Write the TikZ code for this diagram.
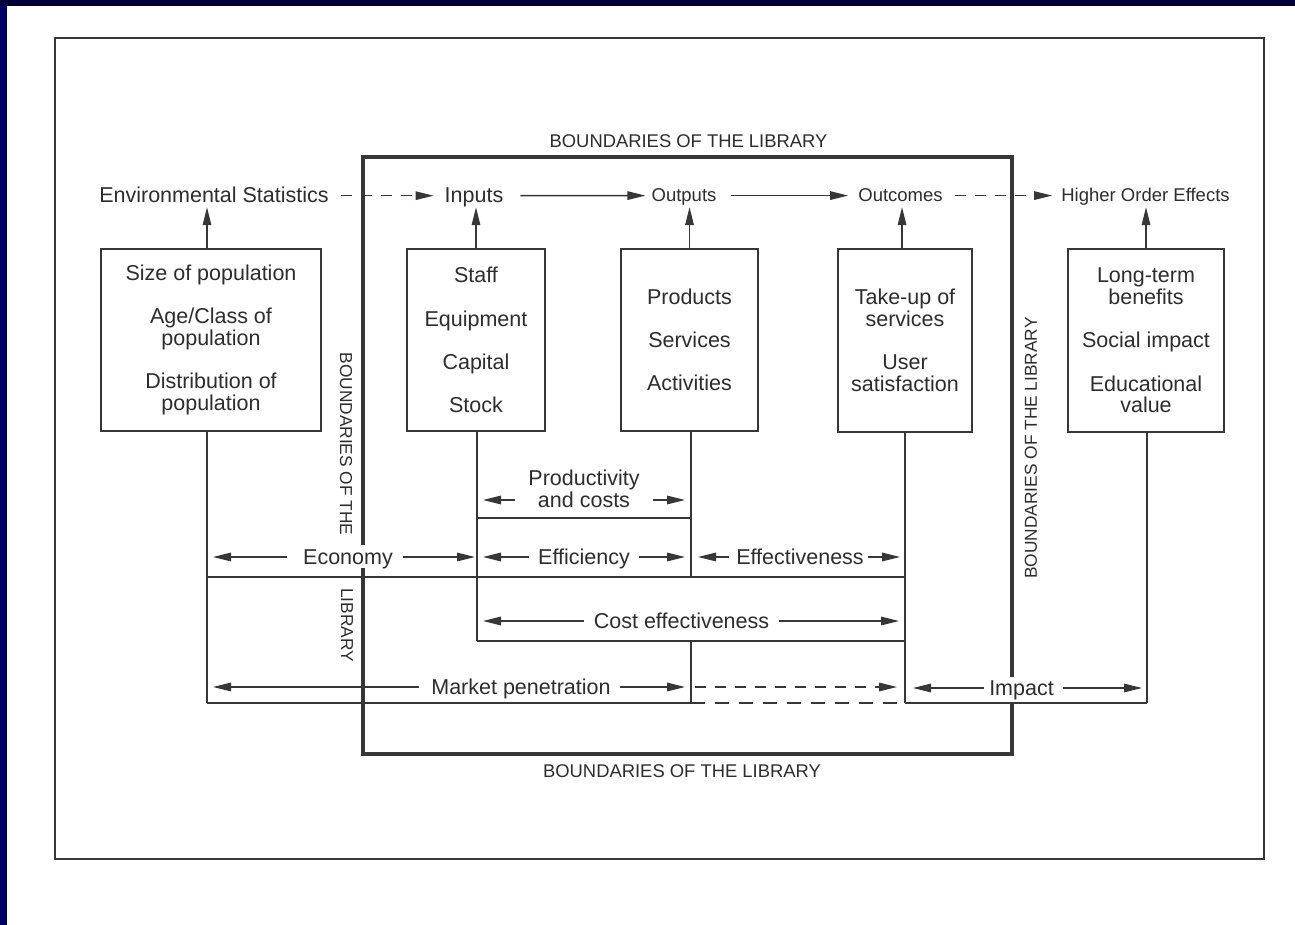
\documentclass[tikz,border=0pt]{standalone}
\usepackage{fontspec}
\setmainfont{Liberation Sans}
\usetikzlibrary{arrows.meta,calc}
\definecolor{ink}{RGB}{45,45,45}
\definecolor{lineink}{RGB}{55,55,55}
\definecolor{navytop}{RGB}{0,0,58}
\definecolor{navyleft}{RGB}{0,0,100}
\newcommand{\mainsize}{\fontsize{21.5}{21.8}\selectfont}
\newcommand{\smallsize}{\fontsize{18.5}{20}\selectfont}
\newcommand{\capsize}{\fontsize{18.4}{20}\selectfont}
\newcommand{\vcapsize}{\fontsize{17.3}{20}\selectfont}
\begin{document}
\begin{tikzpicture}[x=1pt,y=-1pt,
  every node/.style={text=ink},
  box/.style={draw=lineink, line width=1.5pt, inner sep=0pt, align=center, font=\mainsize},
  lbl/.style={inner sep=0pt, font=\mainsize, anchor=base},
  slbl/.style={inner sep=0pt, font=\smallsize, anchor=base},
  mlbl/.style={inner sep=0pt, font=\mainsize, align=center},
  caplbl/.style={inner sep=0pt, font=\capsize, anchor=base},
  vlbl/.style={inner sep=0pt, font=\vcapsize},
  thinline/.style={draw=lineink, line width=1.5pt},
  arr/.style={draw=lineink, line width=1.5pt, -{Triangle[length=18pt,width=8.5pt]}},
  darr/.style={arr, dash pattern=on 11pt off 9pt},
  dline/.style={thinline, dash pattern=on 14pt off 10pt},
  bound/.style={draw=lineink, line width=4.5pt},
  outer/.style={draw=lineink, line width=2pt}
]
% canvas and frame
\fill[white] (0,0) rectangle (1295,925);
\useasboundingbox (0,0) rectangle (1295,925);
\fill[navyleft] (0,0) rectangle (7,925);
\fill[navytop] (0,0) rectangle (1295,6);
\draw[outer] (55,38) rectangle (1264,859);

% grid x positions
\coordinate (xa) at (207,0);
\coordinate (xb) at (477,0);
\coordinate (xc) at (691,0);
\coordinate (xd) at (905,0);
\coordinate (xe) at (1147,0);

% boxes
\node[box, minimum width=220pt, minimum height=182pt] (box1) at (211,340)
  {Size of population\\[21.5pt]Age/Class of\\population\\[21.5pt]Distribution of\\population};
\node[box, minimum width=138pt, minimum height=182pt] (box2) at (476,340)
  {Staff\\[21.5pt]Equipment\\[21.5pt]Capital\\[21.5pt]Stock};
\node[box, minimum width=137pt, minimum height=182pt] (box3) at (689.5,340)
  {Products\\[21.5pt]Services\\[21.5pt]Activities};
\node[box, minimum width=134pt, minimum height=183pt] (box4) at (905,340.5)
  {Take-up of\\services\\[21.5pt]User\\satisfaction};
\node[box, minimum width=156pt, minimum height=183pt] (box5) at (1146,340.5)
  {Long-term\\benefits\\[21.5pt]Social impact\\[21.5pt]Educational\\value};

% top row labels
\node[lbl] (env) at (214,202.7) {Environmental Statistics};
\node[lbl] (inputs) at (474,202.7) {Inputs};
\node[slbl] (outputs) at (684,201.6) {Outputs};
\node[slbl] (outcomes) at (900.5,201.6) {Outcomes};
\node[slbl] (hoe) at (1145.5,201.6) {Higher Order Effects};

% up arrows
\draw[arr] ([xshift=-4pt]box1.north) -- ($(xa |- env.base)+(0,4.5)$);
\draw[arr] (box2.north) -- ($(box2.north |- inputs.base)+(0,4.5)$);
\draw[arr] (box3.north) -- ($(box3.north |- outputs.base)+(0,5.5)$);
\draw[arr] ([xshift=-3pt]box4.north) -- ($([xshift=-3pt]box4.north |- outcomes.base)+(0,5.5)$);
\draw[arr] (box5.north) -- ($(box5.north |- hoe.base)+(0,5.5)$);

% top horizontal arrows
\draw[darr] ($(env.base east)+(12,-7)$) -- ($(inputs.base west)+(-11,-7)$);
\draw[arr] ($(inputs.base east)+(17,-7)$) -- ($(outputs.base west)+(-6,-6)$);
\draw[arr] ($(outputs.base east)+(14,-6)$) -- ($(outcomes.base west)+(-10,-6)$);
\draw[darr] ($(outcomes.base east)+(12,-6)$) -- ($(hoe.base west)+(-9,-6)$);

% grid lines
\draw[thinline] ([xshift=-4pt]box1.south) -- (xa |- 0,703);
\draw[thinline] (xa |- 0,577) -- (xd |- 0,577);
\draw[thinline] (xa |- 0,703) -- (xc |- 0,703);
\draw[dline] (xc |- 0,703) -- (xd |- 0,703);
\draw[thinline] (xd |- 0,703) -- (xe |- 0,703);
\draw[thinline] (box2.south -| xb) -- (xb |- 0,641);
\draw[thinline] (xb |- 0,518) -- (xc |- 0,518);
\draw[thinline] (box3.south -| xc) -- (xc |- 0,577);
\draw[thinline] (xc |- 0,641) -- (xc |- 0,703);
\draw[thinline] (xb |- 0,641) -- (xd |- 0,641);
\draw[thinline] (box4.south) -- (xd |- 0,703);
\draw[thinline] (box5.south -| xe) -- (xe |- 0,703);

% middle labels
\node[mlbl] (prod) at (584,489) {Productivity\\and costs};
\node[lbl] (econ) at (348,564.7) {Economy};
\node[lbl] (effic) at (584,564.7) {Efficiency};
\node[lbl] (effect) at (800,564.7) {Effectiveness};
\node[lbl] (costeff) at (681.5,628.7) {Cost effectiveness};
\node[lbl] (market) at (521,694.7) {Market penetration};
\node[lbl] (impact) at (1021.5,695.7) {Impact};

% middle arrows
\draw[arr] ($(prod.west |- 0,500)+(-13.5,0)$) -- ($(xb |- 0,500)+(6,0)$);
\draw[arr] ($(prod.east |- 0,500)+(13.5,0)$) -- ($(xc |- 0,500)+(-6,0)$);
\draw[arr] ($(econ.base west)+(-16,-7.7)$) -- ($(xa |- econ.base)+(6,-7.7)$);
\draw[arr] ($(econ.base east)+(10,-7.7)$) -- ($(xb |- econ.base)+(-2,-7.7)$);
\draw[arr] ($(effic.base west)+(-9,-7.7)$) -- ($(xb |- effic.base)+(6,-7.7)$);
\draw[arr] ($(effic.base east)+(9,-7.7)$) -- ($(xc |- effic.base)+(-6,-7.7)$);
\draw[arr] ($(effect.base west)+(-7,-7.7)$) -- ($(xc |- effect.base)+(7,-7.7)$);
\draw[arr] ($(effect.base east)+(4,-7.7)$) -- ($(xd |- effect.base)+(-5,-7.7)$);
\draw[arr] ($(costeff.base west)+(-10,-7.7)$) -- ($(xb |- costeff.base)+(6,-7.7)$);
\draw[arr] ($(costeff.base east)+(10,-7.7)$) -- ($(xd |- costeff.base)+(-6,-7.7)$);
\draw[arr] ($(market.base west)+(-12,-7.7)$) -- ($(xa |- market.base)+(6,-7.7)$);
\draw[arr] ($(market.base east)+(9,-7.7)$) -- ($(xc |- market.base)+(-6,-7.7)$);
\draw[darr] ($(xc |- market.base)+(4,-7.7)$) -- ($(xd |- market.base)+(-8,-7.7)$);
\draw[arr] ($(impact.base west)+(-5,-7.7)$) -- ($(xd |- impact.base)+(8,-7.7)$);
\draw[arr] ($(impact.base east)+(9,-7.7)$) -- ($(xe |- impact.base)+(-5,-7.7)$);

% library boundary
\draw[bound] (363,545) -- (363,157) -- (1012,157) -- (1012,677);
\draw[bound] (1012,702) -- (1012,754) -- (363,754) -- (363,568);

% boundary labels
\node[caplbl] (btop) at (688.5,147.6) {BOUNDARIES OF THE LIBRARY};
\node[caplbl] (bbot) at (682,777.6) {BOUNDARIES OF THE LIBRARY};
\node[vlbl, rotate=-90] (bleft1) at (346,444) {BOUNDARIES OF THE};
\node[vlbl, rotate=-90] (bleft2) at (347,625) {LIBRARY};
\node[vlbl, rotate=90] (bright) at (1031,448) {BOUNDARIES OF THE LIBRARY};
\end{tikzpicture}
\end{document}
